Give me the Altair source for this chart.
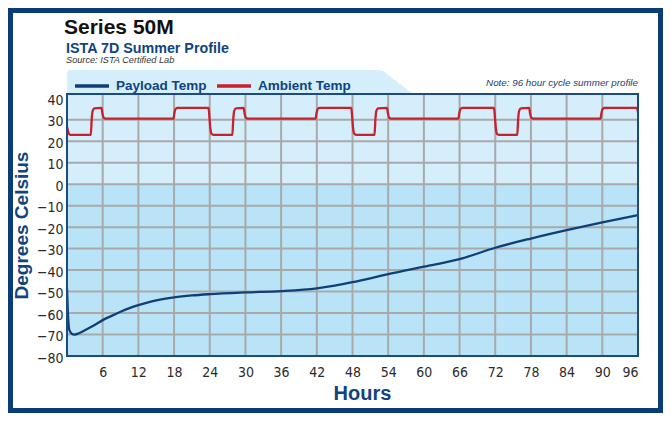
import altair as alt
import pandas as pd

# ---------------- data ----------------
payload_hours = [0, 0.15, 0.4, 0.8, 1.3, 2, 3, 4.5, 6, 7.5, 9, 10.5, 12, 13.5, 15, 18, 21, 24,
                 30, 36, 42, 45, 48, 51, 54, 60, 66, 72, 78, 84, 90, 96]
payload_temps = [-48.5, -60, -68, -69.6, -70, -69.4, -68, -65.8, -63.3, -61.3, -59.4, -57.7,
                 -56.3, -55.1, -54.1, -52.7, -51.8, -51.2, -50.4, -49.8, -48.5, -47.2, -45.6,
                 -43.8, -41.9, -38.4, -34.9, -29.6, -25.3, -21.4, -17.8, -14.4]

ambient_hours = [0, 0.25, 0.5,
                 4.0, 4.15, 4.3, 4.6, 5.8, 5.95, 6.15, 6.5,
                 17.9, 18.05, 18.25, 18.6, 23.8, 23.95, 24.1, 24.3, 24.6,
                 27.8, 27.95, 28.1, 28.4, 29.7, 29.85, 30.05, 30.4,
                 41.8, 41.95, 42.15, 42.5, 47.8, 47.95, 48.1, 48.3, 48.6,
                 51.7, 51.85, 52.0, 52.3, 53.8, 53.95, 54.15, 54.5,
                 65.8, 65.95, 66.15, 66.5, 71.8, 71.95, 72.1, 72.3, 72.6,
                 75.7, 75.85, 76.0, 76.3, 77.7, 77.85, 78.05, 78.4,
                 89.7, 89.85, 90.05, 90.4, 95.8, 96]
ambient_temps = [26.8, 24, 23,
                 23, 30, 34, 35.3, 35.5, 33, 31, 30.5,
                 30.5, 33, 35, 35.5, 35.5, 31, 26, 23.5, 23,
                 23, 30, 34, 35.3, 35.5, 33, 31, 30.5,
                 30.5, 33, 35, 35.5, 35.5, 31, 26, 23.5, 23,
                 23, 30, 34, 35.3, 35.5, 33, 31, 30.5,
                 30.5, 33, 35, 35.5, 35.5, 31, 26, 23.5, 23,
                 23, 30, 34, 35.3, 35.5, 33, 31, 30.5,
                 30.5, 33, 35, 35.5, 35.5, 33.5]

series_names = ["Payload Temp", "Ambient Temp"]
series_colors = ["#0f3f79", "#c8212b"]

x_ticks = [6, 12, 18, 24, 30, 36, 42, 48, 54, 60, 66, 72, 78, 84, 90, 96]
y_ticks = [-80, -70, -60, -50, -40, -30, -20, -10, 0, 10, 20, 30, 40]
x_grid = [6, 12, 18, 24, 30, 36, 42, 48, 54, 60, 66, 72, 78, 84, 90]
y_grid = [-70, -60, -50, -40, -30, -20, -10, 0, 10, 20, 30]

band_lo = [0, -80]
band_hi = [42, 0]
band_fill = ["#d5eefb", "#b9e4f8"]

title_text = "Series 50M"
subtitle_text = "ISTA 7D Summer Profile"
source_text = "Source: ISTA Certified Lab"
note_text = "Note: 96 hour cycle summer profile"

# ---------------- layout ----------------
W, H = 571, 262
PAD_L, PAD_T, PAD_R, PAD_B = 59, 86, 25, 57
DARK = "#0f447f"
TICK_FONT = "DejaVu Sans Condensed, Liberation Sans Narrow, sans-serif"
MAIN_FONT = "Liberation Sans, Arial, sans-serif"

lines_df = pd.concat([
    pd.DataFrame({"hours": payload_hours, "temp": payload_temps, "series": series_names[0]}),
    pd.DataFrame({"hours": ambient_hours, "temp": ambient_temps, "series": series_names[1]}),
])
bands_df = pd.DataFrame({"lo": band_lo, "hi": band_hi, "fill": band_fill})
xgrid_df = pd.DataFrame({"v": x_grid})
ygrid_df = pd.DataFrame({"v": y_grid})
one = pd.DataFrame({"a": [0]})

xscale = alt.Scale(domain=[0, 96], nice=False, zero=False)
yscale = alt.Scale(domain=[-80, 42], nice=False, zero=False)

xaxis = alt.Axis(values=x_ticks, grid=False, domain=False, ticks=False,
                 labelFont=TICK_FONT, labelFontSize=14, labelColor="#2b2b2b",
                 labelPadding=9, title="Hours", titleFont=MAIN_FONT, titleFontSize=20,
                 titleFontWeight="bold", titleColor=DARK, titleX=295, titleY=27,
                 titleBaseline="top")
yaxis = alt.Axis(values=y_ticks, grid=False, domain=False, ticks=False,
                 labelFont=TICK_FONT, labelFontSize=14, labelColor="#2b2b2b",
                 labelPadding=4, labelOffset=2, title="Degrees Celsius",
                 titleFont=MAIN_FONT, titleFontSize=19, titleFontWeight="bold",
                 titleColor=DARK, titleX=-36, titleY=131)

X_ENC = dict(scale=xscale, axis=xaxis, title="Hours")
Y_ENC = dict(scale=yscale, axis=yaxis, title="Degrees Celsius")

bands = alt.Chart(bands_df).mark_rect().encode(
    x=alt.value(0), x2=alt.value(W),
    y=alt.Y("lo:Q", **Y_ENC), y2="hi:Q",
    color=alt.Color("fill:N", scale=None),
)

tab_path = "M0,0 L0,-20 Q0,-24 4,-24 L310,-24 Q316,-24 320,-20 L346,0 Z"
tab = alt.Chart(one).mark_point(shape=tab_path, size=4, filled=True, opacity=1,
                                 fill="#d5eefb", strokeWidth=0).encode(
    x=alt.value(0), y=alt.value(0))

vgrid = alt.Chart(xgrid_df).mark_rule(color="#a9a9a9", strokeWidth=2).encode(
    x=alt.X("v:Q", **X_ENC))
hgrid = alt.Chart(ygrid_df).mark_rule(color="#a9a9a9", strokeWidth=2).encode(
    y=alt.Y("v:Q", **Y_ENC))

lines = alt.Chart(lines_df).mark_line(strokeWidth=2.3, interpolate="monotone").encode(
    x=alt.X("hours:Q", **X_ENC),
    y=alt.Y("temp:Q", **Y_ENC),
    color=alt.Color("series:N", scale=alt.Scale(domain=series_names, range=series_colors),
                    sort=series_names,
                    legend=alt.Legend(orient="none", legendX=6, legendY=-27, direction="horizontal",
                                      title=None, symbolType="stroke", symbolSize=1156,
                                      symbolStrokeWidth=3.5, labelFont=MAIN_FONT,
                                      labelFontSize=13.5, labelFontWeight="bold",
                                      labelColor=DARK, labelOffset=5, columnPadding=3)),
)

border = alt.Chart(one).mark_rect(filled=False, stroke="#1b4a85", strokeWidth=2).encode(
    x=alt.value(0), x2=alt.value(W), y=alt.value(0), y2=alt.value(H))

frame = alt.Chart(one).mark_rect(filled=False, stroke="#0a3d73", strokeWidth=5).encode(
    x=alt.value(-PAD_L + 2.5), x2=alt.value(W + PAD_R - 2.5),
    y=alt.value(-PAD_T + 2.5), y2=alt.value(H + PAD_B - 2.5))

def label(txt, x, y, size, color, weight="normal", style="normal", align="left"):
    return alt.Chart(pd.DataFrame({"t": [txt]})).mark_text(
        font=MAIN_FONT, fontSize=size, color=color, fontWeight=weight, fontStyle=style,
        align=align, baseline="alphabetic").encode(
        text="t:N", x=alt.value(x), y=alt.value(y))

t1 = label(title_text, -3, -60, 21, "#111111", weight="bold")
t2 = label(subtitle_text, -1, -41, 14.3, DARK, weight="bold")
t3 = label(source_text, -1, -31, 9.2, "#333333", style="italic")
t4 = label(note_text, W, -8, 9.8, "#1d3d6b", style="italic", align="right")

chart = alt.layer(bands, tab, vgrid, hgrid, lines, border, frame, t1, t2, t3, t4).properties(
    width=W, height=H,
    autosize=alt.AutoSizeParams(type="none"),
    padding={"left": PAD_L, "top": PAD_T, "right": PAD_R, "bottom": PAD_B},
    background="white",
).configure_view(stroke=None)

chart.save("out.html", embed_options={"renderer": "svg", "actions": False})
